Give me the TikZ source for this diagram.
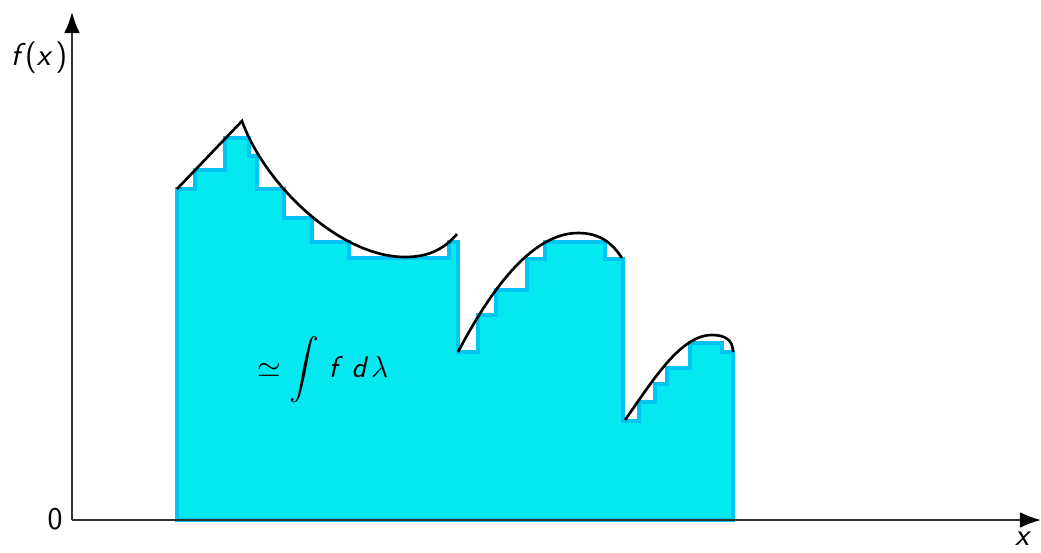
\documentclass[tikz,border=0pt]{standalone}
\usepackage{amsmath,amssymb}
\usepackage{fontspec}
\usepackage{tikz}
\usetikzlibrary{arrows.meta}
\definecolor{areacyan}{HTML}{04E8F0}
\definecolor{areaedge}{HTML}{00C4F2}
\definecolor{axisgrey}{HTML}{333333}

\begin{document}
\begin{tikzpicture}[x=0.02cm,y=-0.02cm,
  axis/.style={-{Latex[length=12pt,width=9pt,color=black]},line width=1.1pt,draw=axisgrey},
  steps/.style={fill=areacyan,draw=areaedge,line width=2.1pt,line join=miter},
  curve/.style={line width=1.5pt,draw=black},
  lbl/.style={font=\fontsize{18}{20}\selectfont\sffamily}
]
\useasboundingbox (0,0) rectangle (1041,552);
\coordinate (o) at (72,520);
\coordinate (ytop) at (72,12);
\coordinate (xend) at (1041,520);

% simple function below f
\path[steps] (177,520) |- (195,189) |- (225,170) |- (249,138) |- (257,156)
  |- (284,189) |- (312,218) |- (349,242) |- (449,258) |- (458,242)
  |- (478,352) |- (496,315) |- (527,290) |- (545,259) |- (605,242)
  |- (623,259) |- (639,421) |- (655,402) |- (667,384) |- (690,368)
  |- (722,343) |- (733,352) -- (733,520) -- cycle;

% the three pieces of f
\draw[curve] (177,189) -- (242,121) .. controls (265,185) and (340,257) .. (405,257)
  .. controls (430,257) and (445,248) .. (457,234);
\draw[curve] (458,352) .. controls (488,295) and (530,233) .. (578,233)
  .. controls (600,233) and (612,243) .. (622,258);
\draw[curve] (625,420) .. controls (652,382) and (680,335) .. (712,335)
  .. controls (725,335) and (733,340) .. (733,352);

\draw[axis] (o) -- (ytop);
\draw[axis] (o) -- (xend);

\node[lbl] (fx) at (39,58) {\itshape f\,\upshape(\itshape x\,\upshape)};
\node[lbl] (zero) at (55,519) {0};
\node[lbl] (xlbl) at (1022,539) {\itshape x};
\node[lbl,font=\fontsize{17}{20}\selectfont\sffamily] (integral) at (323,370)
  {$\simeq\displaystyle\int$\ \itshape f\, d\,$\lambda$};
\end{tikzpicture}
\end{document}
